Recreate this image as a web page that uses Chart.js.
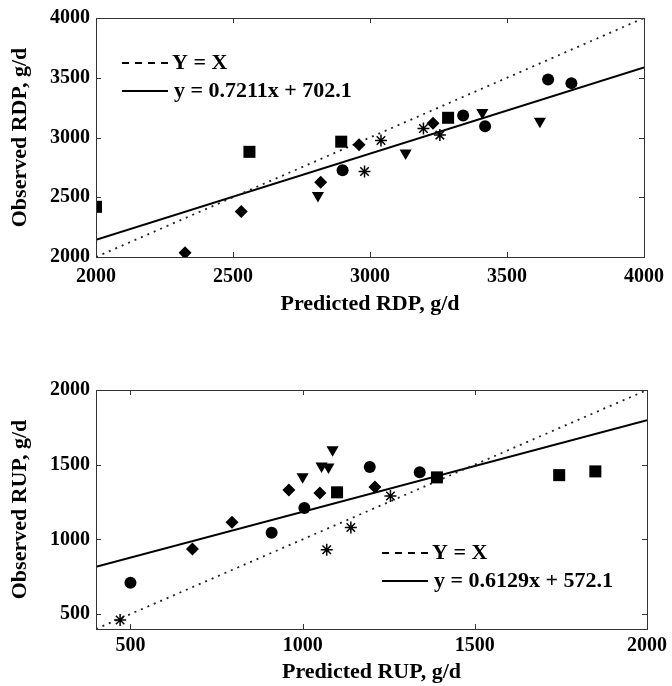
<!DOCTYPE html>
<html>
<head>
<meta charset="utf-8">
<script src="https://cdn.jsdelivr.net/npm/chart.js@4.4.1/dist/chart.umd.min.js"></script>
<style>
  html, body { margin: 0; padding: 0; background: #fff; }
  #wrap { position: relative; width: 672px; height: 686px; }
  canvas { position: absolute; left: 0; }
  #rdp { top: 0; }
  #rup { top: 343px; }
</style>
</head>
<body>
<div id="wrap">
  <canvas id="rdp" width="672" height="343"></canvas>
  <canvas id="rup" width="672" height="343"></canvas>
</div>
<script>
// RDP panel (predicted vs observed, g/d)
const rdpSquares   = [[2000, 2420], [2560, 2880], [2895, 2965], [3285, 3165]];
const rdpDiamonds  = [[2325, 2035], [2530, 2380], [2820, 2625], [2960, 2940], [3230, 3120]];
const rdpTriangles = [[2810, 2515], [3130, 2870], [3410, 3210], [3620, 3135]];
const rdpCircles   = [[2900, 2725], [3340, 3185], [3420, 3095], [3650, 3485], [3735, 3455]];
const rdpStars     = [[2980, 2715], [3040, 2975], [3195, 3075], [3255, 3020]];
const rdpIdentity  = [[2000, 2000], [4000, 4000]];
const rdpFit       = [[2000, 2144.3], [4000, 3586.5]];
const rdpTicks     = [2000, 2500, 3000, 3500, 4000];
const rdpFitLabel  = "y = 0.7211x + 702.1";

// RUP panel
const rupCircles   = [[500, 710], [910, 1045], [1005, 1210], [1195, 1485], [1340, 1450]];
const rupDiamonds  = [[680, 935], [795, 1115], [960, 1330], [1050, 1310], [1210, 1350]];
const rupTriangles = [[1000, 1420], [1055, 1492], [1075, 1485], [1087, 1600]];
const rupSquares   = [[1100, 1315], [1390, 1415], [1745, 1430], [1850, 1455]];
const rupStars     = [[470, 460], [1070, 930], [1140, 1080], [1255, 1290]];
const rupIdentity  = [[400, 400], [2000, 2000]];
const rupFit       = [[400, 817.3], [2000, 1797.9]];
const rupXTicks    = [500, 1000, 1500, 2000];
const rupYTicks    = [500, 1000, 1500, 2000];
const rupFitLabel  = "y = 0.6129x + 572.1";

const FONT = '"Liberation Serif", "Times New Roman", serif';
const INK = '#000';
const FRAME = '#333';

const toXY = arr => arr.map(p => ({ x: p[0], y: p[1] }));

function markers(sq, di, tr, ci, st) {
  return [
    { label: 'Squares', data: toXY(sq), pointStyle: 'rect', pointRadius: 8.5,
      backgroundColor: INK, borderColor: INK, borderWidth: 0 },
    { label: 'Diamonds', data: toXY(di), pointStyle: 'rectRot', pointRadius: 6.5,
      backgroundColor: INK, borderColor: INK, borderWidth: 0 },
    { label: 'Triangles', data: toXY(tr), pointStyle: 'triangle', rotation: 180, pointRadius: 7,
      backgroundColor: INK, borderColor: INK, borderWidth: 0 },
    { label: 'Circles', data: toXY(ci), pointStyle: 'circle', pointRadius: 6,
      backgroundColor: INK, borderColor: INK, borderWidth: 0 },
    { label: 'Asterisks', data: toXY(st), pointStyle: 'star', pointRadius: 6,
      backgroundColor: INK, borderColor: INK, borderWidth: 1.5 }
  ];
}

function lines(identity, fit) {
  return [
    { label: 'Y = X', data: toXY(identity), showLine: true, pointRadius: 0,
      borderColor: '#222', borderWidth: 1.8, borderDash: [2, 5] },
    { label: 'Fit', data: toXY(fit), showLine: true, pointRadius: 0,
      borderColor: INK, borderWidth: 2 }
  ];
}

// matlab style box with inward ticks on every side
const frameTicks = {
  id: 'frameTicks',
  afterDraw(chart) {
    const { ctx, chartArea: a, scales } = chart;
    const len = 5;
    ctx.save();
    ctx.strokeStyle = FRAME;
    ctx.lineWidth = 1;
    ctx.strokeRect(a.left + 0.5, a.top + 0.5, a.right - a.left, a.bottom - a.top);
    ctx.beginPath();
    scales.x.ticks.forEach(t => {
      const px = Math.round(scales.x.getPixelForValue(t.value)) + 0.5;
      ctx.moveTo(px, a.bottom); ctx.lineTo(px, a.bottom - len);
      ctx.moveTo(px, a.top); ctx.lineTo(px, a.top + len);
    });
    scales.y.ticks.forEach(t => {
      const py = Math.round(scales.y.getPixelForValue(t.value)) + 0.5;
      ctx.moveTo(a.left, py); ctx.lineTo(a.left + len, py);
      ctx.moveTo(a.right, py); ctx.lineTo(a.right - len, py);
    });
    ctx.stroke();

    // legend
    const lg = chart.options.plugins.boxLegend;
    const x0 = a.left + lg.dx;
    const y0 = lg.fromBottom ? a.bottom - lg.dy : a.top + lg.dy;
    ctx.strokeStyle = INK;
    ctx.lineWidth = 2;
    ctx.setLineDash([7, 6]);
    ctx.beginPath(); ctx.moveTo(x0, y0); ctx.lineTo(x0 + 47, y0); ctx.stroke();
    ctx.setLineDash([]);
    ctx.beginPath(); ctx.moveTo(x0, y0 + 28); ctx.lineTo(x0 + 46, y0 + 28); ctx.stroke();
    ctx.fillStyle = INK;
    ctx.font = 'bold 22px ' + FONT;
    ctx.textBaseline = 'middle';
    ctx.textAlign = 'left';
    ctx.fillText('Y = X', x0 + 50, y0);
    ctx.fillText(lg.fitText, x0 + 52, y0 + 28);
    ctx.restore();
  }
};

function makeChart(id, cfg) {
  return new Chart(document.getElementById(id), {
    type: 'scatter',
    data: { datasets: markers(...cfg.marks).concat(lines(cfg.identity, cfg.fit)) },
    options: {
      responsive: false,
      animation: false,
      events: [],
      layout: { padding: { top: cfg.padTop, right: 25, left: 0, bottom: 0 } },
      plugins: {
        legend: { display: false },
        tooltip: { enabled: false },
        boxLegend: cfg.legend
      },
      scales: {
        x: {
          type: 'linear', min: cfg.xMin, max: cfg.xMax,
          grid: { display: false, drawTicks: false },
          border: { display: false },
          afterBuildTicks: s => { s.ticks = cfg.xTicks.map(v => ({ value: v })); },
          afterFit: s => { s.height = cfg.xHeight; },
          ticks: { color: INK, padding: cfg.xPad, maxRotation: 0,
                   callback: v => String(v),
                   font: { family: FONT, size: 20, weight: 'bold' } },
          title: { display: true, text: cfg.xTitle, color: INK,
                   padding: { top: 0, bottom: cfg.titlePad },
                   font: { family: FONT, size: 22, weight: 'bold' } }
        },
        y: {
          type: 'linear', min: cfg.yMin, max: cfg.yMax,
          grid: { display: false, drawTicks: false },
          border: { display: false },
          afterBuildTicks: s => { s.ticks = cfg.yTicks.map(v => ({ value: v })); },
          afterFit: s => { s.width = 96; },
          ticks: { color: INK, padding: 6,
                   callback: v => String(v),
                   font: { family: FONT, size: 20, weight: 'bold' } },
          title: { display: true, text: cfg.yTitle, color: INK,
                   padding: { top: 7, bottom: 0 },
                   font: { family: FONT, size: 22, weight: 'bold' } }
        }
      }
    },
    plugins: [frameTicks]
  });
}

makeChart('rdp', {
  marks: [rdpSquares, rdpDiamonds, rdpTriangles, rdpCircles, rdpStars],
  identity: rdpIdentity, fit: rdpFit,
  xMin: 2000, xMax: 4000, yMin: 2000, yMax: 4000,
  xTicks: rdpTicks, yTicks: rdpTicks,
  xTitle: 'Predicted RDP, g/d', yTitle: 'Observed RDP, g/d',
  padTop: 17, xHeight: 86, xPad: 8, titlePad: 25,
  legend: { dx: 26, dy: 45, fromBottom: false, fitText: rdpFitLabel }
});

makeChart('rup', {
  marks: [rupSquares, rupDiamonds, rupTriangles, rupCircles, rupStars],
  identity: rupIdentity, fit: rupFit,
  xMin: 400, xMax: 2000, yMin: 400, yMax: 2000,
  xTicks: rupXTicks, yTicks: rupYTicks,
  xTitle: 'Predicted RUP, g/d', yTitle: 'Observed RUP, g/d',
  padTop: 47, xHeight: 57, xPad: 5, titlePad: 0,
  legend: { dx: 286, dy: 76, fromBottom: true, fitText: rupFitLabel }
});
</script>
</body>
</html>
